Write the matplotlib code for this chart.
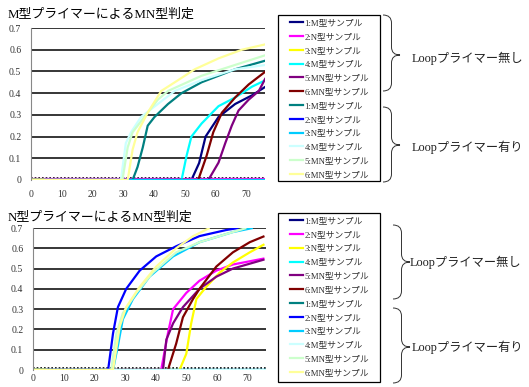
import numpy as np
import matplotlib
matplotlib.use('Agg')
import matplotlib.pyplot as plt
from matplotlib.path import Path
from matplotlib.patches import PathPatch, Rectangle
from matplotlib.lines import Line2D

W, H = 529, 387
SERIF_JP = ['Liberation Serif', 'Noto Sans CJK JP']

labels = ['1:M型サンプル', '2:N型サンプル', '3:N型サンプル', '4:M型サンプル',
          '5:MN型サンプル', '6:MN型サンプル'] * 2
colors = ['#000080', '#FF00FF', '#FFFF00', '#00FFFF', '#800080', '#800000',
          '#008080', '#0000FF', '#00CCFF', '#CCFFFF', '#CCFFCC', '#FFFF99']
group_titles = ['Loopプライマー無し', 'Loopプライマー有り']

# --- M型プライマー: (cycle, fluorescence) per sample ---
m_cyc = [
    [0, 52.1, 54.6, 56.7, 60.9, 66.3, 71.8, 76.2],
    [0, 76.2],
    [0, 4, 4.5, 76.2],
    [0, 48.9, 50.5, 52.1, 55.4, 60.9, 66.3, 71.8, 76.2],
    [0, 57.6, 60.9, 63.1, 65.2, 67.4, 70.7, 74.0, 76.2],
    [0, 54.3, 57.0, 59.2, 62.0, 66.3, 70.7, 76.2],
    [0, 33.0, 34.6, 36.3, 37.9, 40.1, 44.5, 48.9, 55.4, 60.9, 66.3, 76.2],
    [0, 76.2],
    [0, 76.2],
    [0, 29.2, 30.8, 32.5, 35.7, 41.2, 46.7, 55.4, 66.3, 76.2],
    [0, 29.7, 31.4, 33.0, 36.8, 41.2, 44.5, 55.4, 66.3, 76.2],
    [0, 31.4, 33.0, 34.6, 37.9, 42.3, 47.8, 53.2, 60.9, 68.5, 76.2],
]
m_val = [
    [0, 0, 0.078, 0.20, 0.29, 0.35, 0.39, 0.43],
    [0.003, 0.003],
    [0.003, 0.003, 0, 0],
    [0, 0, 0.11, 0.20, 0.26, 0.34, 0.38, 0.43, 0.46],
    [0, 0, 0.08, 0.17, 0.25, 0.32, 0.37, 0.41, 0.47],
    [0, 0, 0.11, 0.22, 0.31, 0.38, 0.44, 0.50],
    [0, 0, 0.06, 0.15, 0.25, 0.29, 0.35, 0.40, 0.45, 0.48, 0.51, 0.55],
    [0, 0],
    [0, 0],
    [0, 0, 0.17, 0.22, 0.29, 0.35, 0.41, 0.46, 0.51, 0.53],
    [0, 0, 0.15, 0.22, 0.29, 0.37, 0.41, 0.48, 0.53, 0.575],
    [0, 0, 0.14, 0.22, 0.31, 0.41, 0.46, 0.51, 0.56, 0.60, 0.625],
]

# --- N型プライマー ---
n_cyc = [
    [0, 76],
    [0, 41.8, 44.0, 45.7, 50.0, 54.3, 59.8, 65.2, 75.5],
    [0, 4, 4.5, 47.8, 50.0, 51.6, 53.3, 56.5, 60.9, 65.2, 70.7, 75.5],
    [0, 76],
    [0, 42.4, 43.5, 45.7, 48.9, 54.3, 59.8, 65.2, 75.5],
    [0, 44.0, 46.7, 48.9, 52.2, 54.3, 59.8, 65.2, 70.7, 75.5],
    [0, 76],
    [0, 24.5, 26.1, 27.7, 30.4, 34.8, 40.2, 46.7, 54.3, 63.0, 67.0],
    [0, 26.1, 27.7, 29.3, 32.6, 38.0, 45.7, 54.3, 65.2, 71.7],
    [0, 76],
    [0, 25.5, 27.2, 29.3, 33.7, 39.1, 46.7, 54.3, 65.2, 69.6],
    [0, 26.1, 28.3, 30.4, 34.8, 40.2, 46.7, 52.2, 57.6],
]
n_val = [
    [0, 0],
    [0, 0, 0.18, 0.30, 0.38, 0.44, 0.49, 0.52, 0.55],
    [0.003, 0.003, 0, 0, 0.08, 0.23, 0.35, 0.41, 0.48, 0.53, 0.58, 0.62],
    [0, 0],
    [0, 0, 0.15, 0.23, 0.31, 0.40, 0.46, 0.50, 0.545],
    [0, 0, 0.13, 0.26, 0.35, 0.40, 0.51, 0.58, 0.63, 0.66],
    [0, 0],
    [0, 0, 0.18, 0.31, 0.40, 0.49, 0.56, 0.61, 0.66, 0.69, 0.70],
    [0, 0, 0.12, 0.25, 0.35, 0.46, 0.56, 0.63, 0.68, 0.70],
    [0, 0],
    [0, 0, 0.18, 0.28, 0.38, 0.48, 0.58, 0.63, 0.68, 0.70],
    [0, 0, 0.215, 0.31, 0.41, 0.51, 0.60, 0.66, 0.70],
]

threshold = 0.01


def fx(px):
    return px / W


def fy(py):
    return 1 - py / H


def brace(fig, x0, x1, ytop, ybot, ytip):
    # curly brace opening to the right, in pixel coords
    h = (x1 - x0) / 2
    r = 8
    pts = [(x0, ytop), (x0 + h, ytop), (x0 + h, ytop + r),
           (x0 + h, ytip - r), (x0 + h, ytip), (x1, ytip),
           (x0 + h, ytip), (x0 + h, ytip + r),
           (x0 + h, ybot - r), (x0 + h, ybot), (x0, ybot)]
    codes = [Path.MOVETO, Path.CURVE3, Path.CURVE3,
             Path.LINETO, Path.CURVE3, Path.CURVE3,
             Path.CURVE3, Path.CURVE3,
             Path.LINETO, Path.CURVE3, Path.CURVE3]
    verts = [(fx(a), fy(b)) for a, b in pts]
    fig.patches.append(PathPatch(Path(verts, codes), transform=fig.transFigure,
                                 fill=False, edgecolor='#333333', lw=0.7))


def panel(fig, rect, title, cyc, val, title_y, box, braces, xpad=7):
    ax = fig.add_axes(rect)
    for c, v, col in zip(cyc, val, colors):
        ax.plot(c, v, color=col, lw=1.6, solid_capstyle='butt')
    ax.axhline(threshold, color='black', lw=1.2, ls=(0, (1, 1.2)), zorder=0.5)
    ax.set_xlim(0, 76)
    ax.set_ylim(0, 0.7)
    ax.set_xticks(range(0, 80, 10))
    ax.set_yticks(np.arange(0, 0.71, 0.1))
    ax.set_yticklabels(['0'] + ['%.1f' % t for t in np.arange(0.1, 0.71, 0.1)])
    ax.yaxis.grid(True, color='black', lw=1.1)
    ax.set_axisbelow(True)
    for s in ['top', 'right', 'bottom']:
        ax.spines[s].set_visible(False)
    ax.spines['left'].set_color('#888888')
    ax.tick_params(axis='x', length=0, pad=xpad, labelsize=7, colors='#333333')
    ax.tick_params(axis='y', length=0, pad=7, labelsize=7, labelcolor='#333333')
    for t in ax.get_xticklabels() + ax.get_yticklabels():
        t.set_fontfamily('Liberation Serif')
    fig.text(fx(8), fy(title_y), title, fontsize=9.3, family=SERIF_JP,
             va='center', ha='left')

    # legend frame drawn separately so the entries can sit with a wider side margin
    bx0, by0, bx1, by1 = box
    fig.patches.append(Rectangle((fx(bx0), fy(by1)), fx(bx1) - fx(bx0),
                                 fy(by0) - fy(by1), transform=fig.transFigure,
                                 fill=True, facecolor='white',
                                 edgecolor='black', lw=0.9))
    handles = [Line2D([], [], color=col, lw=1.6) for col in colors]
    leg = fig.legend(handles, labels, loc='upper left',
                     bbox_to_anchor=(fx(bx0 + 12), fy(by0 + 4)),
                     prop={'family': SERIF_JP, 'size': 6.3},
                     frameon=False, borderpad=0,
                     labelspacing=0.65, handlelength=1.5, handletextpad=0.15,
                     borderaxespad=0)
    for t in leg.get_texts():
        t.set_color('#333333')

    for (x0, x1, yt, yb, ytip, tx, ty), gt in zip(braces, group_titles):
        brace(fig, x0, x1, yt, yb, ytip)
        fig.text(fx(tx), fy(ty), gt, fontsize=8.8, family=SERIF_JP,
                 va='center', ha='left', color='#222222')
    return ax


fig = plt.figure(figsize=(W / 100, H / 100), dpi=100)
fig.patch.set_facecolor('white')

panel(fig, [fx(31), fy(180), fx(265) - fx(31), fy(28) - fy(180)],
      'M型プライマーによるMN型判定', m_cyc, m_val, 15,
      (278, 15, 380, 181),
      [(383, 400, 15, 91, 55, 412, 58),
       (383, 400, 107, 182, 145, 412, 147)])

panel(fig, [fx(33), fy(370), fx(266) - fx(33), fy(228) - fy(370)],
      'N型プライマーによるMN型判定', n_cyc, n_val, 218,
      (278, 213, 380, 382),
      [(393, 410, 225, 299, 262, 410, 262),
       (393, 410, 308, 383, 347, 412, 347)], xpad=3)

fig.savefig('out.png', dpi=100)
